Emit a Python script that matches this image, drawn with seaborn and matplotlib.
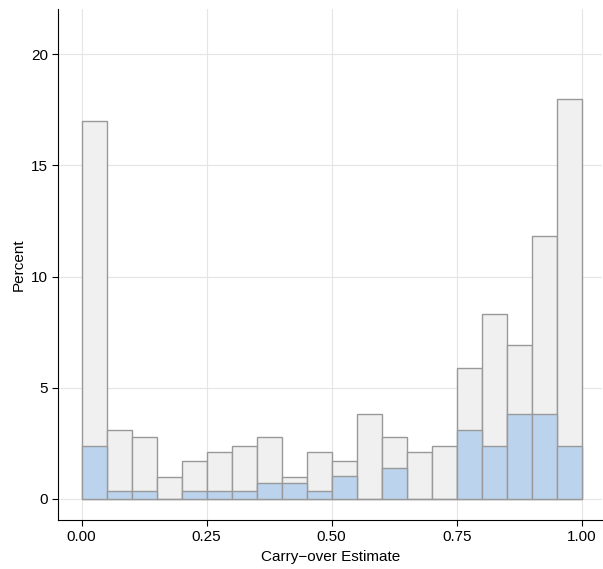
import numpy as np
import pandas as pd
import seaborn as sns
import matplotlib.pyplot as plt

bin_centers = np.arange(20) * 0.05 + 0.025
total_pct = [17.0, 3.1, 2.8, 1.0, 1.7, 2.1, 2.4, 2.8, 1.0, 2.1,
             1.7, 3.8, 2.8, 2.1, 2.4, 5.9, 8.3, 6.9, 11.8, 18.0]
blue_pct = [2.4, 0.35, 0.35, 0.0, 0.35, 0.35, 0.35, 0.7, 0.7, 0.35,
            1.05, 0.0, 1.4, 0.0, 0.0, 3.1, 2.4, 3.8, 3.8, 2.4]
df = pd.DataFrame({"x": bin_centers, "total": total_pct, "blue": blue_pct})

sns.set_style("whitegrid", {"grid.color": "#e5e5e5", "axes.edgecolor": "black"})
plt.rcParams['font.family'] = ['Liberation Sans', 'DejaVu Sans']

fig, ax = plt.subplots(figsize=(6.03, 5.69), dpi=100)
sns.histplot(data=df, x="x", weights="total", binwidth=0.05, binrange=(0, 1),
             color="#f0f0f0", edgecolor="#999999", linewidth=1, alpha=1, ax=ax)
sns.histplot(data=df, x="x", weights="blue", binwidth=0.05, binrange=(0, 1),
             color="#bcd3ee", edgecolor="#999999", linewidth=1, alpha=1, ax=ax)

ax.set_xlim(-0.046, 1.04)
ax.set_ylim(-0.95, 22.05)
ax.set_xticks([0, 0.25, 0.5, 0.75, 1.0])
ax.set_xticklabels(["0.00", "0.25", "0.50", "0.75", "1.00"])
ax.set_yticks([0, 5, 10, 15, 20])
ax.set_xlabel("Carry\u2212over Estimate", fontsize=11, color="black")
ax.set_ylabel("Percent", fontsize=11, color="black")
ax.tick_params(axis='both', labelsize=11, length=4, color="black",
               labelcolor="black", bottom=True, left=True)
for s in ["top", "right"]:
    ax.spines[s].set_visible(False)
ax.set_axisbelow(True)

fig.subplots_adjust(left=0.097, right=0.998, top=0.985, bottom=0.086)
fig.savefig("out.png", dpi=100)
